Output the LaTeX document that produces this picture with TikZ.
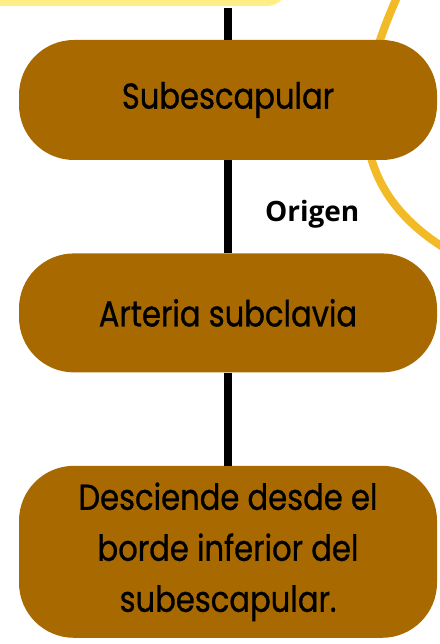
\documentclass[tikz,border=0pt]{standalone}
\usepackage{fontspec}
\setmainfont{Poppins}[FakeStretch=0.85, FakeBold=0.8]
\newfontfamily\origenfont{Open Sans}
\usetikzlibrary{positioning}
\definecolor{cafe}{RGB}{168,106,0}
\definecolor{crema}{RGB}{255,237,133}
\definecolor{mostaza}{RGB}{243,186,40}
\tikzset{
	caja/.style={fill=cafe, rounded corners=55pt, minimum width=418pt, inner sep=0pt, align=center, font=\fontsize{36}{51}\selectfont},
	enlace/.style={line width=8pt, black},
}

\begin{document}
\begin{tikzpicture}[x=1pt, y=-1pt, node distance=93pt]
			%%%%% START %%%%%
			
			\useasboundingbox (0, 0) rectangle (439, 644);
			
			\draw[line width=8pt, color=mostaza] (398, -5) .. controls (355, 90) and (338, 190) .. (458, 256);
			
			\node[fill=crema, rounded corners=20pt, minimum width=314pt, minimum height=72pt] (tema) at (130, -30) {};
			
			\node[caja, minimum height=120pt] (sub) at (228, 100) {Subescapular};
			\node[caja, minimum height=119pt, below=of sub] (art) {Arteria subclavia};
			\node[caja, minimum height=172pt, below=of art] (desc) {Desciende desde el\\borde inferior del\\subescapular.};
			
			\draw[enlace, shorten <=2pt] (sub.north |- tema.south) -- (sub.north);
			\draw[enlace] (sub.south) -- (art.north)
				node[midway, anchor=base west, xshift=33pt, yshift=-15pt, inner sep=0pt, font=\origenfont\bfseries\fontsize{28}{30}\selectfont] (origen) {Origen};
			\draw[enlace] (art.south) -- (desc.north);
			
			%%%%% END %%%%%
		\end{tikzpicture}
\end{document}
